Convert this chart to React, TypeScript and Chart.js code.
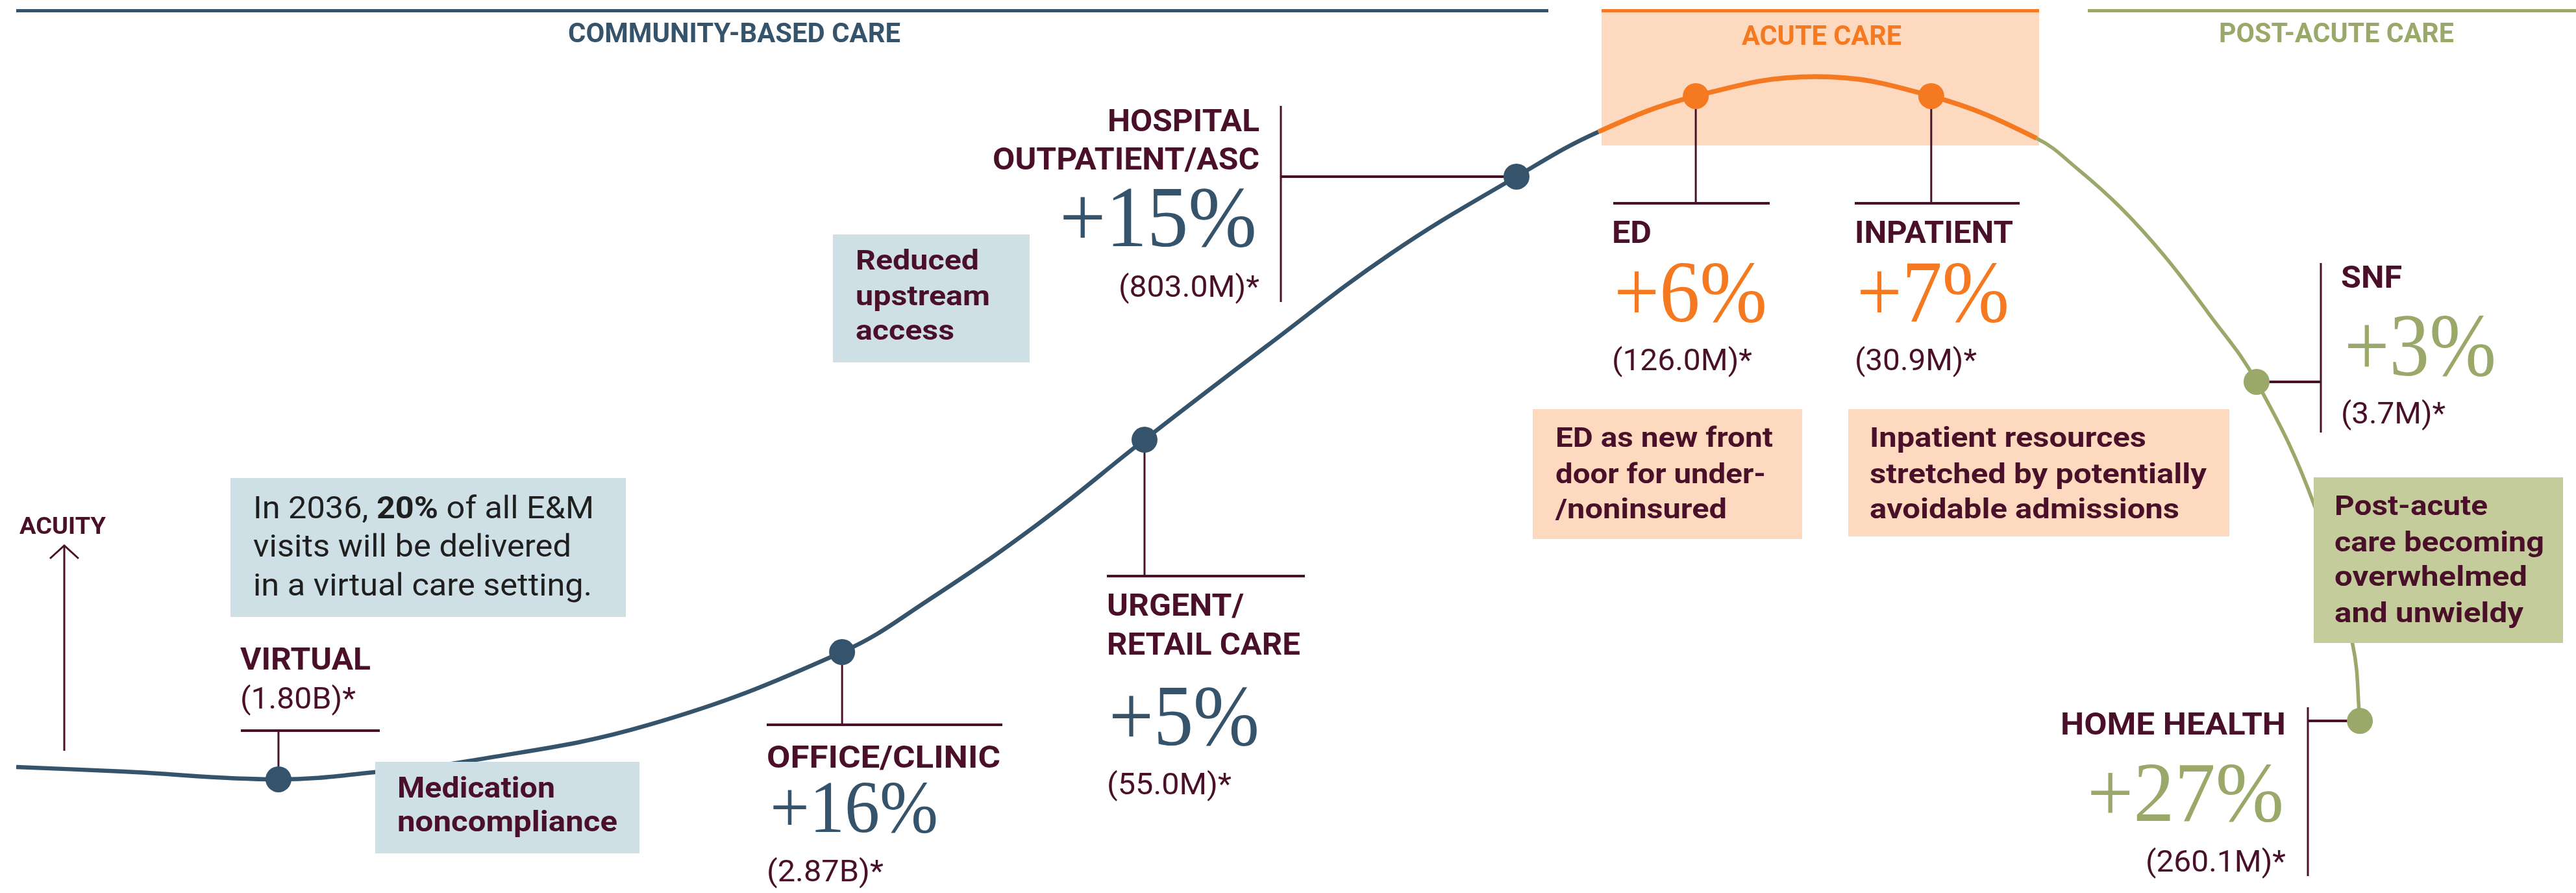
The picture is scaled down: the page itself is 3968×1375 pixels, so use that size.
import React, { useEffect, useRef } from "react";
import { Chart, registerables } from "chart.js";

Chart.register(...registerables);

// ---------------- DATA ----------------
const careSettings = ["COMMUNITY-BASED CARE", "ACUTE CARE", "POST-ACUTE CARE"];
// curve index where each care setting begins
const settingStartIdx = [0, 13, 17];

// continuum position (0-100) and acuity (0-100) along the curve
const curveX = [0.63, 4.81, 10.81, 14.54, 18.17, 25.2, 32.69, 36.04, 40.32, 44.43, 49.17, 54.01, 58.87, 62.05, 65.83, 70.49, 74.97, 79.06, 80.65, 82.33, 84.0, 85.69, 87.6, 89.87, 91.33, 91.61];
const curveY = [14.11, 13.6, 12.73, 13.53, 14.76, 18.84, 26.98, 32.8, 41.38, 50.76, 61.24, 71.64, 80.22, 85.24, 89.24, 91.42, 89.24, 84.51, 81.09, 76.73, 71.42, 65.09, 57.24, 43.2, 27.85, 19.27];

const stationNames = ["VIRTUAL", "OFFICE/CLINIC", "URGENT/\nRETAIL CARE", "HOSPITAL\nOUTPATIENT/ASC", "ED", "INPATIENT", "SNF", "HOME HEALTH"];
const stationCurveIdx = [2, 6, 9, 12, 14, 16, 22, 25];
const growthPct: (number | null)[] = [null, 16, 5, 15, 6, 7, 3, 27];
const volumes = ["1.80B", "2.87B", "55.0M", "803.0M", "126.0M", "30.9M", "3.7M", "260.1M"];

const insights = [
  "In 2036, **20%** of all E&M\nvisits will be delivered\nin a virtual care setting.",
  "Medication\nnoncompliance",
  "Reduced\nupstream\naccess",
  "ED as new front\ndoor for under-\n/noninsured",
  "Inpatient resources\nstretched by potentially\navoidable admissions",
  "Post-acute\ncare becoming\noverwhelmed\nand unwieldy",
];
const axisLabel = "ACUITY";

// ---------------- STYLE / LAYOUT ----------------
const W = 3968;
const H = 1375;
const BLUE = "#35546c";
const ORANGE = "#f47920";
const GREEN = "#9aa86a";
const MAROON = "#4a1029";
const INK = "#1f1f1f";
const LIGHTBLUE = "#cedfe5";
const PEACH = "#fdd9bf";
const SAGE = "#c4cc9c";
const settingColors = [BLUE, ORANGE, GREEN];
const settingWidths = [6.5, 7.5, 5.5];

const SANS = "Roboto, 'Noto Sans', Arial, sans-serif";
const SERIF = "'Liberation Serif', 'DejaVu Serif', serif";

const settingLayout = [
  { line: [25, 2385], cx: 1131, y: 65, w: 512 },
  { line: [2467, 3141], cx: 2806, y: 69, w: 246, band: [2467, 15, 3141, 224] },
  { line: [3216, 3968], cx: 3599, y: 65, w: 362 },
];

type StationLayout = {
  conn: "up" | "down" | "side";
  bar?: number[];
  side?: number[];
  align: "left" | "right";
  x: number;
  nameY: number[];
  nameW: number[];
  pctX?: number;
  pctY?: number;
  pctW?: number;
  pctSize?: number;
  volY: number;
  volW: number;
};

const stationLayout: StationLayout[] = [
  { conn: "up", bar: [371, 585, 1125], align: "left", x: 370, nameY: [1031], nameW: [201], volY: 1091, volW: 178 },
  { conn: "down", bar: [1181, 1544, 1116], align: "left", x: 1181, nameY: [1182], nameW: [360], pctX: 1186, pctY: 1281, pctW: 259, pctSize: 114, volY: 1357, volW: 180 },
  { conn: "down", bar: [1705, 2010, 887], align: "left", x: 1705, nameY: [948, 1008], nameW: [211, 298], pctX: 1708, pctY: 1147, pctW: 232, pctSize: 133, volY: 1223, volW: 192 },
  { conn: "side", side: [1973, 163, 465], align: "right", x: 1940, nameY: [202, 261], nameW: [234, 411], pctX: 1936, pctY: 379, pctW: 304, pctSize: 133, volY: 457, volW: 217 },
  { conn: "down", bar: [2485, 2726, 313], align: "left", x: 2483, nameY: [374], nameW: [61], pctX: 2486, pctY: 495, pctW: 236, pctSize: 136, volY: 570, volW: 216 },
  { conn: "down", bar: [2857, 3111, 313], align: "left", x: 2857, nameY: [374], nameW: [244], pctX: 2860, pctY: 495, pctW: 235, pctSize: 136, volY: 570, volW: 188 },
  { conn: "side", side: [3575, 405, 666], align: "left", x: 3606, nameY: [443], nameW: [94], pctX: 3611, pctY: 578, pctW: 234, pctSize: 137, volY: 652, volW: 161 },
  { conn: "side", side: [3555, 1089, 1349], align: "right", x: 3521, nameY: [1131], nameW: [347], pctX: 3518, pctY: 1264, pctW: 303, pctSize: 131, volY: 1342, volW: 216 },
];

const insightLayout = [
  { rect: [355, 736, 964, 950], fill: LIGHTBLUE, x: 390, ys: [798, 857, 917], ws: [525, 490, 522], size: 49, bold: false, color: INK },
  { rect: [578, 1173, 985, 1314], fill: LIGHTBLUE, x: 612, ys: [1228, 1280], ws: [243, 339], size: 45, bold: true, color: MAROON },
  { rect: [1283, 361, 1586, 558], fill: LIGHTBLUE, x: 1318, ys: [415, 470, 523], ws: [190, 207, 152], size: 43, bold: true, color: MAROON },
  { rect: [2361, 630, 2776, 830], fill: PEACH, x: 2396, ys: [688, 744, 798], ws: [335, 324, 264], size: 43, bold: true, color: MAROON },
  { rect: [2847, 630, 3434, 826], fill: PEACH, x: 2880, ys: [688, 744, 798], ws: [426, 519, 477], size: 43, bold: true, color: MAROON },
  { rect: [3564, 735, 3948, 990], fill: SAGE, x: 3596, ys: [793, 849, 902, 958], ws: [236, 323, 297, 291], size: 43, bold: true, color: MAROON },
];

const axisLayout = { x: 99, top: 840, bottom: 1156, labelX: 30, labelY: 822, labelW: 133 };

// ---------------- HELPERS ----------------
function settingOf(i: number) {
  let s = 0;
  for (let k = 0; k < settingStartIdx.length; k++) if (i >= settingStartIdx[k]) s = k;
  return s;
}

type Run = { t: string; bold: boolean };

function parseRuns(line: string, bold: boolean): Run[] {
  const parts = line.split("**");
  return parts.map((t, k) => ({ t, bold: k % 2 === 1 ? !bold : bold })).filter((r) => r.t.length > 0);
}

function drawRuns(
  ctx: CanvasRenderingContext2D,
  runs: Run[],
  x: number,
  y: number,
  size: number,
  family: string,
  color: string,
  align: "left" | "right" | "center",
  w?: number
) {
  ctx.save();
  ctx.fillStyle = color;
  ctx.textBaseline = "alphabetic";
  ctx.textAlign = "left";
  const widths = runs.map((r) => {
    ctx.font = `${r.bold ? "bold " : ""}${size}px ${family}`;
    return ctx.measureText(r.t).width;
  });
  const nat = widths.reduce((a, b) => a + b, 0);
  const sx = w ? Math.max(0.6, Math.min(1.35, w / nat)) : 1;
  const total = nat * sx;
  let left = x;
  if (align === "right") left = x - total;
  else if (align === "center") left = x - total / 2;
  ctx.translate(left, y);
  ctx.scale(sx, 1);
  let acc = 0;
  runs.forEach((r, k) => {
    ctx.font = `${r.bold ? "bold " : ""}${size}px ${family}`;
    ctx.fillText(r.t, acc, 0);
    acc += widths[k];
  });
  ctx.restore();
}

function line(ctx: CanvasRenderingContext2D, x1: number, y1: number, x2: number, y2: number, color: string, width: number) {
  ctx.beginPath();
  ctx.moveTo(x1, y1);
  ctx.lineTo(x2, y2);
  ctx.strokeStyle = color;
  ctx.lineWidth = width;
  ctx.lineCap = "butt";
  ctx.stroke();
}

const overlayPlugin = {
  id: "continuumOverlay",
  beforeDatasetsDraw(chart: any) {
    const ctx: CanvasRenderingContext2D = chart.ctx;
    const xs = chart.scales.x;
    const ys = chart.scales.y;
    ctx.save();
    // acute care band and setting rules
    settingLayout.forEach((s, k) => {
      if (s.band) {
        ctx.fillStyle = PEACH;
        ctx.fillRect(s.band[0], s.band[1], s.band[2] - s.band[0], s.band[3] - s.band[1]);
      }
      line(ctx, s.line[0], 16.5, s.line[1], 16.5, settingColors[k], 5);
    });
    // connectors
    stationLayout.forEach((L, i) => {
      const ci = stationCurveIdx[i];
      const px = xs.getPixelForValue(curveX[ci]);
      const py = ys.getPixelForValue(curveY[ci]);
      if (L.conn === "up" || L.conn === "down") {
        const [x1, x2, by] = L.bar!;
        line(ctx, px, py, px, by, MAROON, 3);
        line(ctx, x1, by, x2, by, MAROON, 4);
      } else {
        const [vx, y1, y2] = L.side!;
        line(ctx, px, py, vx, py, MAROON, 4);
        line(ctx, vx, y1, vx, y2, MAROON, 3);
      }
    });
    // acuity axis arrow
    const A = axisLayout;
    line(ctx, A.x, A.top, A.x, A.bottom, MAROON, 3);
    ctx.beginPath();
    ctx.moveTo(A.x - 22, A.top + 20);
    ctx.lineTo(A.x, A.top);
    ctx.lineTo(A.x + 22, A.top + 20);
    ctx.strokeStyle = MAROON;
    ctx.lineWidth = 3;
    ctx.stroke();
    ctx.restore();
  },
  afterDatasetsDraw(chart: any) {
    const ctx: CanvasRenderingContext2D = chart.ctx;
    ctx.save();
    // setting titles
    settingLayout.forEach((s, k) => {
      drawRuns(ctx, [{ t: careSettings[k], bold: true }], s.cx, s.y, 42, SANS, settingColors[k], "center", s.w);
    });
    // axis label
    drawRuns(ctx, [{ t: axisLabel, bold: true }], axisLayout.labelX, axisLayout.labelY, 37, SANS, MAROON, "left", axisLayout.labelW);
    // insight boxes
    insightLayout.forEach((B, i) => {
      ctx.fillStyle = B.fill;
      ctx.fillRect(B.rect[0], B.rect[1], B.rect[2] - B.rect[0], B.rect[3] - B.rect[1]);
      insights[i].split("\n").forEach((ln, k) => {
        drawRuns(ctx, parseRuns(ln, B.bold), B.x, B.ys[k], B.size, SANS, B.color, "left", B.ws[k]);
      });
    });
    // station labels
    stationLayout.forEach((L, i) => {
      const setting = settingOf(stationCurveIdx[i]);
      stationNames[i].split("\n").forEach((nm, k) => {
        drawRuns(ctx, [{ t: nm, bold: true }], L.x, L.nameY[k], 48, SANS, MAROON, L.align, L.nameW[k]);
      });
      const g = growthPct[i];
      if (g !== null && L.pctX !== undefined) {
        drawRuns(ctx, [{ t: `+${g}%`, bold: false }], L.pctX, L.pctY!, L.pctSize!, SERIF, settingColors[setting], L.align, L.pctW);
      }
      drawRuns(ctx, [{ t: `(${volumes[i]})*`, bold: false }], L.x, L.volY, 46, SANS, MAROON, L.align, L.volW);
    });
    ctx.restore();
  },
};

export default function App() {
  const ref = useRef<HTMLCanvasElement | null>(null);
  useEffect(() => {
    if (!ref.current) return;
    const n = curveX.length;
    const pts = curveX.map((x, i) => ({ x, y: curveY[i] }));
    const radii = Array.from({ length: n }, (_, i) => (stationCurveIdx.includes(i) ? 20 : 0));
    const pcolors = Array.from({ length: n }, (_, i) => settingColors[settingOf(i)]);
    const chart = new Chart(ref.current, {
      type: "line",
      data: {
        datasets: [
          {
            data: pts,
            tension: 0.4,
            borderColor: BLUE,
            borderWidth: 6.5,
            fill: false,
            pointRadius: radii,
            pointHoverRadius: radii,
            pointBackgroundColor: pcolors,
            pointBorderColor: pcolors,
            pointBorderWidth: 0,
            clip: false,
            segment: {
              borderColor: (c: any) => settingColors[settingOf(c.p0DataIndex)],
              borderWidth: (c: any) => settingWidths[settingOf(c.p0DataIndex)],
            },
          } as any,
        ],
      },
      options: {
        animation: false,
        responsive: false,
        events: [],
        layout: { padding: 0, autoPadding: false },
        plugins: {
          legend: { display: false },
          tooltip: { enabled: false },
          title: { display: false },
        },
        scales: {
          x: { type: "linear", min: 0, max: 100, display: false },
          y: { type: "linear", min: 0, max: 100, display: false },
        },
      },
      plugins: [overlayPlugin],
    });
    return () => chart.destroy();
  }, []);
  return (
    <div style={{ position: "absolute", left: 0, top: 0, width: W, height: H, background: "#ffffff" }}>
      <canvas ref={ref} width={W} height={H} style={{ display: "block", width: W, height: H }} />
    </div>
  );
}
